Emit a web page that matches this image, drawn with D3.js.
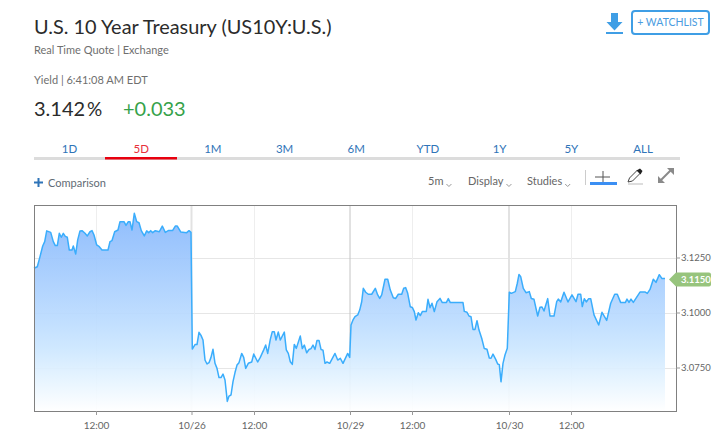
<!DOCTYPE html>
<html><head><meta charset="utf-8">
<script src="https://cdn.jsdelivr.net/npm/d3@7/dist/d3.min.js"></script>
<style>html,body{margin:0;padding:0;background:#fff}svg{display:block}text{font-family:Lato,"Open Sans",sans-serif}</style>
</head><body><svg id="c" width="725" height="444"></svg>
<script>
// bar number along the 5-minute axis (sessions are stitched together, gaps removed)
const bars=[0,3.3,6,8.7,10.7,12.7,16.7,19.3,21.3,23.3,25.3,27.3,29.3,31.3,33.3,35.3,38,39.3,41.7,43.7,46,48,51,53.3,56,58,60,62.7,65.3,68,74,76,78,80.7,84,86,90,92,94.3,96,98,100.3,102.7,105,107.3,110.3,112.7,114.7,116.7,118.7,121.3,125.3,128.3,131.3,134.7,138.7,141.3,143.3,146.7,152.7,155,157,
158.3,161,163,165,167,169,171,173,175,177,179,181,183,185,187,189,191,193.3,195,197,199,201,203,205,207.7,209.7,211.7,214.3,217.7,219.7,223.7,226.3,229.7,231.7,233.7,236.3,238.3,240.3,242,244.3,246.3,250.3,252.3,254.3,256.3,258.3,260.3,262.3,266.3,268.3,270.3,272.7,275,277,279,281,283,285,287,289,291,293,295.7,301,303.7,306.3,309,313.7,315.7,
317,319,321,323.7,325.7,327.7,329.3,331.7,334.3,337.7,341.3,343.7,345.7,347.7,351,353.7,356.3,359.3,361.7,364.3,367.7,369.7,371.7,373.7,376.3,378.3,380.3,382,384.3,386.3,388.3,392.3,394,396,398,400.3,403,406,408.3,412.3,414.3,416.3,429,430.3,433,435,437,439,441,443,445,447.7,450.3,453,455.3,457,459,461.7,463.7,465.3,467,469,471,473.3,
475.3,477.3,481.3,483.3,485,486.7,489.3,492,495.3,497.3,500,503.7,506,508,510,513.7,516,520,522.7,524.3,526.7,530,534,538,542,544,546.7,548.3,550.3,552.3,554.7,556.7,560,564.7,568,572.7,576.7,580.7,583.3,586.7,591.3,593,595,597,599.3,606,611.3,613.3,616,619.3,622,625.3,628,631];
const yields=[3.1201,3.1208,3.1254,3.1302,3.1322,3.1371,3.1364,3.1322,3.1304,3.1304,3.1360,3.1342,3.1360,3.1346,3.1342,3.1284,3.1284,3.1302,3.1266,3.1330,3.1371,3.1372,3.1360,3.1348,3.1367,3.1372,3.1352,3.1307,3.1299,3.1284,3.1284,3.1322,3.1327,3.1367,3.1375,3.1413,3.1413,3.1396,3.1413,3.1413,3.1375,3.1451,3.1413,3.1408,3.1372,3.1348,3.1371,3.1363,3.1372,3.1363,3.1372,3.1367,3.1393,3.1364,3.1373,3.1373,3.1393,3.1393,3.1366,3.1363,3.1372,3.1364,
3.0834,3.0854,3.0854,3.0910,3.0896,3.0875,3.0784,3.0766,3.0772,3.0796,3.0833,3.0769,3.0746,3.0704,3.0704,3.0720,3.0693,3.0596,3.0620,3.0625,3.0686,3.0727,3.0761,3.0772,3.0814,3.0796,3.0746,3.0769,3.0775,3.0811,3.0775,3.0796,3.0830,3.0852,3.0814,3.0878,3.0913,3.0913,3.0875,3.0911,3.0875,3.0911,3.0830,3.0814,3.0776,3.0764,3.0855,3.0837,3.0893,3.0836,3.0852,3.0817,3.0832,3.0836,3.0852,3.0832,3.0873,3.0873,3.0832,3.0829,3.0769,3.0775,3.0769,3.0814,3.0784,3.0792,3.0769,3.0814,3.0796,
3.0943,3.0966,3.0981,3.0989,3.1011,3.1049,3.1110,3.1092,3.1083,3.1083,3.1110,3.1080,3.1064,3.1080,3.1151,3.1151,3.1102,3.1067,3.1064,3.1083,3.1083,3.1110,3.1113,3.1087,3.1026,3.1023,3.1004,3.0966,3.0999,3.0986,3.1004,3.1005,3.1060,3.1022,3.1042,3.1004,3.1049,3.1064,3.1045,3.1045,3.1063,3.1045,3.1045,3.1005,3.1001,3.0984,3.0981,3.0923,3.0923,3.0963,3.0920,3.0883,3.0836,3.0833,3.0793,3.0792,3.0811,3.0787,3.0766,3.0763,3.0685,3.0769,3.0807,3.0837,
3.1092,3.1087,3.1095,3.1133,3.1173,3.1163,3.1110,3.1090,3.1095,3.1064,3.1060,3.0984,3.1024,3.1025,3.1007,3.1063,3.0984,3.0984,3.1049,3.1061,3.1048,3.1092,3.1048,3.1080,3.1049,3.1083,3.1083,3.1027,3.1063,3.1048,3.1063,3.1063,3.0989,3.0943,3.1001,3.0964,3.1042,3.1083,3.1083,3.1045,3.1045,3.1061,3.1046,3.1061,3.1046,3.1093,3.1093,3.1087,3.1105,3.1151,3.1137,3.1172,3.1154,3.1154];
const yTicks=[3.075,3.1,3.125];
const noonBars=[62,220,378,537];
const dateBars=[157.5,316,475];
const dateLabels=["10/26","10/29","10/30"];
const rangeTabs=["1D","5D","1M","3M","6M","YTD","1Y","5Y","ALL"];
const lastValue=3.115;

const svg=d3.select("#c");
const T=(x,y,s,o={})=>svg.append("text").attr("x",x).attr("y",y).text(s)
  .attr("font-size",o.size||11).attr("fill",o.fill||"#666").attr("text-anchor",o.anchor||"start").attr("font-weight",o.weight||400);

// header
T(34,34,"U.S. 10 Year Treasury (US10Y:U.S.)",{size:19.900,fill:"#2b2b2b"});
T(34,54,"Real Time Quote | Exchange",{size:11,fill:"#6f6f6f"});
T(34,84,"Yield | 6:41:08 AM EDT",{size:11,fill:"#6f6f6f"});
T(34,116,"3.142",{size:20,fill:"#2b2b2b"});
T(87,116,"%",{size:19,fill:"#2b2b2b"});
T(123,116,"+0.033",{size:20,fill:"#36a24a"});

// download + watchlist
svg.append("path").attr("d","M611 13h7v9h4.5l-8 8.5l-8-8.5h4.500z").attr("fill","#3f9ee5");
svg.append("rect").attr("x",606).attr("y",32).attr("width",17).attr("height",2).attr("fill","#3f9ee5");
svg.append("rect").attr("x",632).attr("y",11).attr("width",77).attr("height",23).attr("rx",3).attr("fill","#fff").attr("stroke","#3f9ee5").attr("stroke-width",2);
T(670.500,26,"+ WATCHLIST",{size:10.500,fill:"#4a9ce0",anchor:"middle"});

// range tabs
const tabX=d3.scalePoint().domain(rangeTabs).range([69.5,643]);
svg.append("rect").attr("x",34).attr("y",157).attr("width",646).attr("height",3).attr("fill","#dcdcdc");
svg.append("rect").attr("x",105).attr("y",157).attr("width",72).attr("height",2.500).attr("fill","#e8000f");
rangeTabs.forEach(t=>T(tabX(t),153,t,{size:11.500,anchor:"middle",fill:t==="5D"?"#e8303a":"#2f74b8"}));

// toolbar
svg.append("path").attr("d","M34 182.500h9M38.500 178v9").attr("stroke","#2f74b8").attr("stroke-width",2).attr("fill","none");
T(48,187,"Comparison",{size:11,fill:"#5f6b75"});
[["5m",428],["Display",468],["Studies",527]].forEach(([s,x])=>{
  const t=T(x,185,s,{size:11,fill:"#666"});
  const e=x+t.node().getComputedTextLength()+3;
  svg.append("path").attr("d",`M${e} 184l2.500 2.500l2.500-2.500`).attr("stroke","#999").attr("fill","none");
});
svg.append("path").attr("d","M585.500 170v15").attr("stroke","#ccc");
svg.append("path").attr("d","M595 177h15M603 171v13").attr("stroke","#555").attr("fill","none");
svg.append("rect").attr("x",590).attr("y",182).attr("width",27).attr("height",3).attr("fill","#3b8ff3");
svg.append("path").attr("d","M628 182l1.500-4l8-8l3 3l-8 8z").attr("stroke","#444").attr("stroke-width",1).attr("fill","#fff");
svg.append("path").attr("d","M636.500 170.500l3.500-2l2.500 2.500l-2 3.500z").attr("fill","#222");
svg.append("path").attr("d","M628 184h15").attr("stroke","#bbb");
svg.append("path").attr("d","M661 180l10-10").attr("stroke","#8a8a8a").attr("stroke-width",2).attr("fill","none");
svg.append("path").attr("d","M658 183v-7l7 7zM674 168v7l-7-7z").attr("fill","#8a8a8a");

// chart
const L=34,R=676,Top=205,Bot=411;
const x=d3.scaleLinear().domain([0,642]).range([L,R]);
const y=d3.scaleLinear().domain([3.125,3.075]).range([257.5,367.5]);

const defs=svg.append("defs");
const g=defs.append("linearGradient").attr("id","fillG").attr("x1",0).attr("x2",0).attr("y1",0).attr("y2",1);
[[0,"#86b7fc"],[.55,"#bcdcff"],[.68,"#cbe6ff"],[.85,"#e6f4ff"],[1,"#ffffff"]].forEach(([o,c])=>
  g.append("stop").attr("offset",o).attr("stop-color",c).attr("stop-opacity",.92));

// grid
svg.append("g").selectAll("line").data(yTicks).join("line")
  .attr("x1",L).attr("x2",R).attr("y1",d=>Math.round(y(d))+.5).attr("y2",d=>Math.round(y(d))+.5).attr("stroke","#e6e6e6");
svg.append("g").selectAll("line").data(noonBars).join("line")
  .attr("x1",d=>x(d)+.5).attr("x2",d=>x(d)+.5).attr("y1",Top).attr("y2",Bot).attr("stroke","#eeeeee");
svg.append("g").selectAll("line").data(dateBars).join("line")
  .attr("x1",d=>x(d)).attr("x2",d=>x(d)).attr("y1",Top).attr("y2",Bot).attr("stroke",(d,i)=>i===1?"#c4c4c4":"#e2e2e2").attr("stroke-width",(d,i)=>i===1?1:2);

const pts=bars.map((b,i)=>[b,yields[i]]);
svg.append("path").datum(pts).attr("fill","url(#fillG)")
  .attr("d",d3.area().x(d=>x(d[0])).y0(Bot).y1(d=>y(d[1])));
svg.append("path").datum(pts).attr("fill","none").attr("stroke","#3aadfc").attr("stroke-width",1.5).attr("stroke-linejoin","round")
  .attr("d",d3.line().x(d=>x(d[0])).y(d=>y(d[1])));

// frame
svg.append("rect").attr("x",L+.5).attr("y",Top+.5).attr("width",R-L).attr("height",Bot-Top).attr("fill","none").attr("stroke","#808080");

// axes
const ay=svg.append("g").attr("transform",`translate(${R},0)`).call(d3.axisRight(y).tickValues(yTicks).tickFormat(d3.format(".4f")).tickSize(4).tickPadding(1));
const ax=svg.append("g").attr("transform",`translate(0,${Bot})`).call(d3.axisBottom(x).tickValues([...noonBars,...dateBars]).tickSize(4).tickPadding(7)
  .tickFormat(d=>{const i=dateBars.indexOf(d);return i>=0?dateLabels[i]:"12:00"}));
[ay,ax].forEach(a=>{a.select(".domain").remove();a.selectAll("line").attr("stroke","#999");a.selectAll("text").attr("fill","#666").attr("font-family","Lato");});
ay.selectAll("text").attr("font-size",9.500);
ax.selectAll("text").attr("font-size",10);

// last value tag
const ly=y(lastValue);
svg.append("path").attr("d",`M669 ${ly}l7-7h33a2 2 0 0 1 2 2v10a2 2 0 0 1-2 2h-33z`).attr("fill","#97c47d");
T(681,ly+3.500,d3.format(".4f")(lastValue),{size:9.500,fill:"#fff",weight:700});
</script></body></html>
